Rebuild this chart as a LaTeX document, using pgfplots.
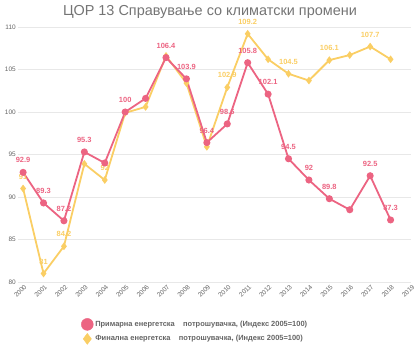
\documentclass[border=0pt]{standalone}
\usepackage{pgfplots}
\pgfplotsset{compat=1.18}
\usepackage{fontspec}
\setmainfont{Liberation Sans}
\definecolor{pinkc}{RGB}{236,100,130}
\definecolor{yellc}{RGB}{250,206,100}
\definecolor{txtgray}{RGB}{100,100,100}
\definecolor{gridc}{RGB}{232,232,232}
\begin{document}
\begin{tikzpicture}
\path[use as bounding box] (0bp,0bp) rectangle (420bp,350bp);
\node[font=\fontsize{14.5}{16}\selectfont, text=txtgray!90] at (210bp,338bp) {ЦОР 13 Справување со климатски промени};
\begin{axis}[
  at={(18bp,68bp)}, anchor=south west,
  scale only axis, width=393bp, height=255bp,
  xmin=1999.75, xmax=2019, ymin=80, ymax=110,
  xtick={2000,...,2019}, ytick={80,85,...,110},
  axis line style={draw=none},
  major tick length=0pt,
  ymajorgrids, grid style={gridc, line width=0.8bp},
  /pgf/number format/assume math mode=true,
  /pgf/number format/1000 sep={},
  tick label style={font=\fontsize{6.5}{7}\selectfont, text=txtgray},
  x tick label style={rotate=45, anchor=north east, inner sep=1bp, yshift=-1bp},
  y tick label style={inner sep=2bp},
  clip=false,
  legend style={draw=none, fill=none, at={(0.158,-0.138)}, anchor=north west,
    font=\bfseries\fontsize{7.5}{9}\selectfont, text=txtgray, row sep=3bp,
    inner sep=1bp},
  legend cell align=left,
  nodes near coords style={font=\bfseries\fontsize{7.5}{9}\selectfont, anchor=center, yshift=12bp},
]
\addlegendimage{only marks, mark=*, mark size=6bp, color=pinkc}
\addlegendentry{Примарна енергетска \ \ \ потрошувачка, (Индекс 2005=100)}
\addlegendimage{only marks, mark=diamond*, mark size=5.5bp, color=yellc}
\addlegendentry{Финална енергетска \ \ \ потрошувачка, (Индекс 2005=100)}

\addplot[forget plot, color=yellc, line width=1.8bp, mark=diamond*, mark size=2.4bp,
  nodes near coords, point meta=explicit symbolic, every node near coord/.append style={text=yellc}]
coordinates {
(2000,91.0)[91] (2001,81.0)[81] (2002,84.2)[84.2] (2003,93.9)[] (2004,92.0)[92]
(2005,99.9)[] (2006,100.6)[] (2007,106.6)[] (2008,103.4)[] (2009,95.9)[]
(2010,102.9)[102.9] (2011,109.2)[109.2] (2012,106.2)[] (2013,104.5)[104.5] (2014,103.7)[]
(2015,106.1)[106.1] (2016,106.7)[] (2017,107.7)[107.7] (2018,106.2)[]
};
\addplot[forget plot, color=pinkc, line width=1.8bp, mark=*, mark size=2.6bp,
  nodes near coords, point meta=explicit symbolic, every node near coord/.append style={text=pinkc}]
coordinates {
(2000,92.9)[92.9] (2001,89.3)[89.3] (2002,87.2)[87.2] (2003,95.3)[95.3] (2004,94.0)[]
(2005,100.0)[100] (2006,101.6)[] (2007,106.4)[106.4] (2008,103.9)[103.9] (2009,96.4)[96.4]
(2010,98.6)[98.6] (2011,105.8)[105.8] (2012,102.1)[102.1] (2013,94.5)[94.5] (2014,92.0)[92]
(2015,89.8)[89.8] (2016,88.5)[] (2017,92.5)[92.5] (2018,87.3)[87.3]
};
\end{axis}
\end{tikzpicture}
\end{document}
